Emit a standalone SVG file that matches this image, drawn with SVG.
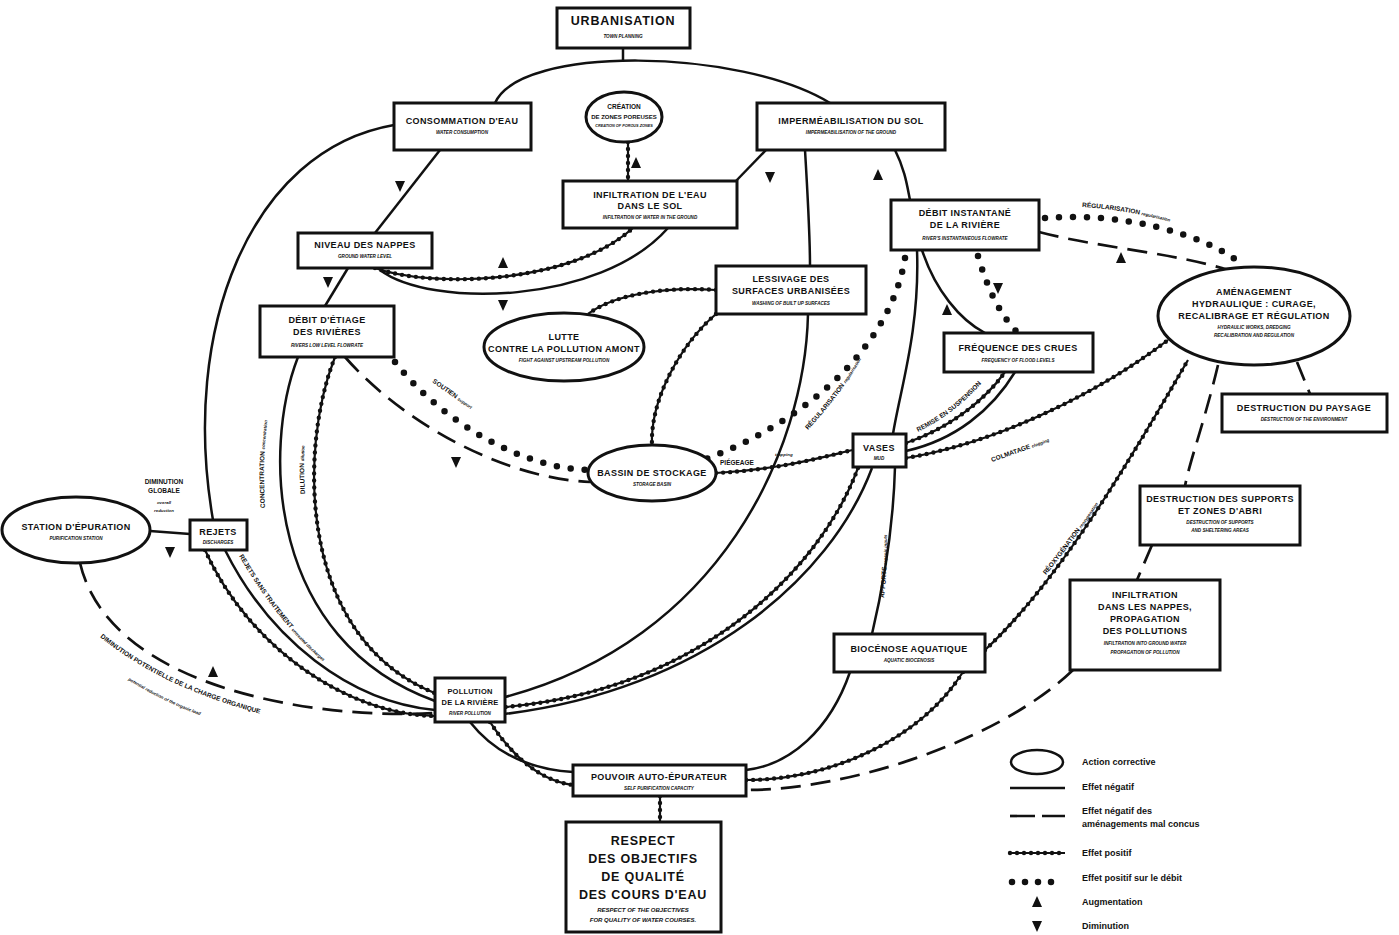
<svg xmlns="http://www.w3.org/2000/svg" xmlns:xlink="http://www.w3.org/1999/xlink" width="1399" height="935" viewBox="0 0 1399 935">
<style>
text{font-family:"Liberation Sans",Arial,sans-serif;font-weight:bold;fill:#111;text-anchor:middle}
.t{font-size:9px;letter-spacing:0.4px}
.s{font-size:4.6px;font-style:italic}
.big{font-size:12.5px;letter-spacing:0.8px}
.lab{font-size:6.5px;text-anchor:start}
.labs{font-size:4.4px;font-style:italic;text-anchor:start}
.box{fill:#fff;stroke:#111;stroke-width:3}
.ell{fill:#fff;stroke:#111;stroke-width:3}
.neg{fill:none;stroke:#111;stroke-width:2.5}
.dash{fill:none;stroke:#111;stroke-width:2.7;stroke-dasharray:20 10}
.posl{fill:none;stroke:#111;stroke-width:2.2}
.posd{fill:none;stroke:#111;stroke-width:4.4;stroke-dasharray:0 7;stroke-linecap:round}
.dot{fill:none;stroke:#111;stroke-width:6.5;stroke-dasharray:0 14;stroke-linecap:round}
.tri{fill:#111}
.leg{font-size:9px;text-anchor:start;font-weight:bold}
</style>
<defs>
<path id="tu" d="M0,-7 L5,4 L-5,4 Z"/>
<path id="td" d="M0,7 L5,-4 L-5,-4 Z"/>
<!-- positive paths -->
<path id="p1" d="M375,268 C430,288 570,285 633,228"/>
<path id="p2" d="M628,142 L628,181"/>
<path id="p3" d="M335,357 C298,450 298,640 437,694"/>
<path id="p4" d="M205,550 C250,650 350,715 435,716"/>
<path id="p5" d="M716,290 C660,286 612,296 588,314"/>
<path id="p6" d="M716,314 C680,345 650,400 652,445"/>
<path id="p7" d="M716,473 C780,470 830,455 853,450"/>
<path id="p8" d="M906,443 C950,428 985,400 1005,372"/>
<path id="p9" d="M906,458 C1000,442 1100,392 1168,340"/>
<path id="p10" d="M858,468 C820,570 700,690 505,707"/>
<path id="p11" d="M985,650 C1060,580 1130,460 1188,360"/>
<path id="p12" d="M963,672 C920,740 830,780 746,780"/>
<path id="p13" d="M490,722 C520,768 550,782 573,785"/>
<path id="p14" d="M660,796 L660,822"/>
<!-- label paths -->
<path id="l1" d="M100,637 C170,694 260,718 368,737"/>
<path id="l2" d="M128,680 C181,713 236,730 304,743"/>
<path id="l3" d="M239,556 C279,625 330,680 392,703"/>
<path id="l4" d="M265,508 C262,450 266,405 282,362"/>
<path id="l5" d="M305,494 C303,460 304,430 310,405"/>
<path id="l6" d="M432,382 C460,402 480,416 505,430"/>
<path id="l7" d="M808,430 C835,400 860,370 888,305"/>
<path id="l8" d="M884,598 C888,565 888,530 884,495"/>
<path id="l9" d="M1046,575 C1070,545 1100,505 1125,460"/>
<path id="l10" d="M1082,207 C1130,210 1180,222 1225,240"/>
<path id="l11" d="M918,432 C942,420 962,405 980,385"/>
<path id="l12" d="M992,462 C1020,452 1042,445 1072,432"/>
</defs>

<g id="connectors">
  <!-- solid: effet negatif -->
  <path class="neg" d="M623,48 L623,62"/>
  <path class="neg" d="M495,103 C520,45 740,48 830,103"/>
  <path class="neg" d="M394,125 C250,150 180,330 213,520"/>
  <path class="neg" d="M440,150 L375,233"/>
  <path class="neg" d="M348,268 L325,306"/>
  <path class="neg" d="M380,270 C430,308 600,305 668,228"/>
  <path class="neg" d="M766,150 L735,182"/>
  <path class="neg" d="M895,150 C905,170 907,185 910,200"/>
  <path class="neg" d="M805,150 C808,200 810,240 810,266"/>
  <path class="neg" d="M808,314 C805,450 720,640 505,697"/>
  <path class="neg" d="M922,250 C935,290 960,320 985,333"/>
  <path class="neg" d="M917,250 C920,330 900,390 893,434"/>
  <path class="neg" d="M298,357 C262,450 268,640 435,701"/>
  <path class="neg" d="M225,550 C270,640 350,702 435,710"/>
  <path class="neg" d="M150,531 L190,534"/>
  <path class="neg" d="M470,722 C500,760 540,770 573,772"/>
  <path class="neg" d="M895,467 C893,540 880,600 872,634"/>
  <path class="neg" d="M850,672 C830,730 790,765 746,770"/>
  <path class="neg" d="M872,468 C830,580 700,690 505,714"/>
  <path class="neg" d="M906,451 C955,440 992,410 1015,372"/>
  <!-- dashed -->
  <path class="dash" d="M80,563 C110,690 320,720 435,713"/>
  <path class="dash" d="M345,357 C400,420 500,478 590,482"/>
  <path class="dash" d="M1039,232 C1100,248 1170,252 1228,270"/>
  <path class="dash" d="M1297,362 L1310,394"/>
  <path class="dash" d="M1218,365 C1205,420 1190,460 1185,486"/>
  <path class="dash" d="M1152,545 L1137,580"/>
  <path class="dash" d="M1073,670 C1000,740 850,790 746,790"/>
  <!-- positive (beaded) -->
  <use href="#p1" class="posl"/><use href="#p1" class="posd"/>
  <use href="#p2" class="posl"/><use href="#p2" class="posd"/>
  <use href="#p3" class="posl"/><use href="#p3" class="posd"/>
  <use href="#p4" class="posl"/><use href="#p4" class="posd"/>
  <use href="#p5" class="posl"/><use href="#p5" class="posd"/>
  <use href="#p6" class="posl"/><use href="#p6" class="posd"/>
  <use href="#p7" class="posl"/><use href="#p7" class="posd"/>
  <use href="#p8" class="posl"/><use href="#p8" class="posd"/>
  <use href="#p9" class="posl"/><use href="#p9" class="posd"/>
  <use href="#p10" class="posl"/><use href="#p10" class="posd"/>
  <use href="#p11" class="posl"/><use href="#p11" class="posd"/>
  <use href="#p12" class="posl"/><use href="#p12" class="posd"/>
  <use href="#p13" class="posl"/><use href="#p13" class="posd"/>
  <use href="#p14" class="posl"/><use href="#p14" class="posd"/>
  <!-- dotted: effet positif sur le debit -->
  <path class="dot" d="M1045,218 C1120,212 1200,232 1242,264"/>
  <path class="dot" d="M978,256 C988,290 1000,315 1018,333"/>
  <path class="dot" d="M905,258 C890,350 800,425 703,460"/>
  <path class="dot" d="M395,362 C440,420 520,468 588,470"/>
  <!-- triangles -->
  <use href="#tu" class="tri" x="636" y="164"/>
  <use href="#tu" class="tri" x="503" y="264"/>
  <use href="#tu" class="tri" x="878" y="176"/>
  <use href="#tu" class="tri" x="947" y="311"/>
  <use href="#tu" class="tri" x="1121" y="259"/>
  <use href="#tu" class="tri" x="213" y="673"/>
  <use href="#td" class="tri" x="400" y="185"/>
  <use href="#td" class="tri" x="328" y="281"/>
  <use href="#td" class="tri" x="503" y="304"/>
  <use href="#td" class="tri" x="770" y="176"/>
  <use href="#td" class="tri" x="998" y="287"/>
  <use href="#td" class="tri" x="456" y="461"/>
  <use href="#td" class="tri" x="170" y="551"/>
  <!-- connector labels -->
  <text class="lab" style="text-anchor:middle" x="164" y="484">DIMINUTION</text>
  <text class="lab" style="text-anchor:middle" x="164" y="493">GLOBALE</text>
  <text class="labs" style="text-anchor:middle" x="164" y="504">overall</text>
  <text class="labs" style="text-anchor:middle" x="164" y="512">reduction</text>
  <text class="lab"><textPath href="#l1">DIMINUTION POTENTIELLE DE LA CHARGE ORGANIQUE</textPath><textPath href="#l2" class="labs">potential reduction of the organic load</textPath></text>
  <text class="lab"><textPath href="#l3">REJETS SANS TRAITEMENT <tspan class="labs">untreated discharges</tspan></textPath></text>
  <text class="lab"><textPath href="#l4">CONCENTRATION <tspan class="labs">concentration</tspan></textPath></text>
  <text class="lab"><textPath href="#l5">DILUTION <tspan class="labs">dilution</tspan></textPath></text>
  <text class="lab"><textPath href="#l6">SOUTIEN <tspan class="labs">support</tspan></textPath></text>
  <text class="lab"><textPath href="#l7">RÉGULARISATION <tspan class="labs">regularisation</tspan></textPath></text>
  <text class="lab" x="720" y="465">PIÉGEAGE</text>
  <text class="labs" x="775" y="456">trapping</text>
  <text class="lab"><textPath href="#l8">APPORTS <tspan class="labs">organic inputs</tspan></textPath></text>
  <text class="lab"><textPath href="#l9">RÉOXYGÉNATION <tspan class="labs">reoxygenation</tspan></textPath></text>
  <text class="lab"><textPath href="#l10">RÉGULARISATION <tspan class="labs">regularisation</tspan></textPath></text>
  <text class="lab"><textPath href="#l11">REMISE EN SUSPENSION</textPath></text>
  <text class="lab"><textPath href="#l12">COLMATAGE <tspan class="labs">clogging</tspan></textPath></text>
</g>

<g id="n-urbanisation"><rect class="box" x="557" y="8" width="133" height="40"/><text class="big" x="623" y="25">URBANISATION</text><text class="s" x="623" y="38">TOWN PLANNING</text></g>
<g id="n-consommation"><rect class="box" x="394" y="103" width="137" height="47"/><text class="t" x="462" y="124">CONSOMMATION D'EAU</text><text class="s" x="462" y="134">WATER CONSUMPTION</text></g>
<g id="n-creation"><ellipse class="ell" cx="624" cy="117" rx="38" ry="25"/><text class="t" style="font-size:6.5px;letter-spacing:0" x="624" y="109">CRÉATION</text><text class="t" style="font-size:6px;letter-spacing:0" x="624" y="119">DE ZONES POREUSES</text><text class="s" style="font-size:3.8px" x="624" y="127">CREATION OF POROUS ZONES</text></g>
<g id="n-impermeabilisation"><rect class="box" x="757" y="103" width="188" height="47"/><text class="t" x="851" y="124">IMPERMÉABILISATION DU SOL</text><text class="s" x="851" y="134">IMPERMEABILISATION OF THE GROUND</text></g>
<g id="n-infiltration-sol"><rect class="box" x="563" y="181" width="174" height="47"/><text class="t" x="650" y="198">INFILTRATION DE L'EAU</text><text class="t" x="650" y="209">DANS LE SOL</text><text class="s" x="650" y="219">INFILTRATION OF WATER IN THE GROUND</text></g>
<g id="n-niveau"><rect class="box" x="298" y="233" width="134" height="35"/><text class="t" x="365" y="248">NIVEAU DES NAPPES</text><text class="s" x="365" y="258">GROUND WATER LEVEL</text></g>
<g id="n-debit-instantane"><rect class="box" x="891" y="200" width="148" height="50"/><text class="t" x="965" y="216">DÉBIT INSTANTANÉ</text><text class="t" x="965" y="228">DE LA RIVIÈRE</text><text class="s" x="965" y="240">RIVER'S INSTANTANEOUS FLOWRATE</text></g>
<g id="n-lessivage"><rect class="box" x="716" y="266" width="150" height="48"/><text class="t" x="791" y="282">LESSIVAGE DES</text><text class="t" x="791" y="294">SURFACES URBANISÉES</text><text class="s" x="791" y="305">WASHING OF BUILT UP SURFACES</text></g>
<g id="n-lutte"><ellipse class="ell" cx="564" cy="347" rx="80" ry="34"/><text class="t" x="564" y="340">LUTTE</text><text class="t" x="564" y="352">CONTRE LA POLLUTION AMONT</text><text class="s" x="564" y="362">FIGHT AGAINST UPSTREAM POLLUTION</text></g>
<g id="n-debit-etiage"><rect class="box" x="260" y="306" width="134" height="51"/><text class="t" x="327" y="323">DÉBIT D'ÉTIAGE</text><text class="t" x="327" y="335">DES RIVIÈRES</text><text class="s" x="327" y="347">RIVERS LOW LEVEL FLOWRATE</text></g>
<g id="n-frequence"><rect class="box" x="944" y="333" width="149" height="39"/><text class="t" x="1018" y="351">FRÉQUENCE DES CRUES</text><text class="s" x="1018" y="362">FREQUENCY OF FLOOD LEVELS</text></g>
<g id="n-amenagement"><ellipse class="ell" cx="1254" cy="316" rx="96" ry="49"/><text class="t" x="1254" y="295">AMÉNAGEMENT</text><text class="t" x="1254" y="307">HYDRAULIQUE : CURAGE,</text><text class="t" x="1254" y="319">RECALIBRAGE ET RÉGULATION</text><text class="s" x="1254" y="329">HYDRAULIC WORKS, DREDGING</text><text class="s" x="1254" y="337">RECALIBRATION AND REGULATION</text></g>
<g id="n-paysage"><rect class="box" x="1222" y="394" width="165" height="38"/><text class="t" x="1304" y="411">DESTRUCTION DU PAYSAGE</text><text class="s" x="1304" y="421">DESTRUCTION OF THE ENVIRONMENT</text></g>
<g id="n-bassin"><ellipse class="ell" cx="652" cy="473" rx="64" ry="28"/><text class="t" x="652" y="476">BASSIN DE STOCKAGE</text><text class="s" x="652" y="486">STORAGE BASIN</text></g>
<g id="n-vases"><rect class="box" x="853" y="434" width="53" height="33"/><text class="t" x="879" y="451">VASES</text><text class="s" x="879" y="460">MUD</text></g>
<g id="n-station"><ellipse class="ell" cx="76" cy="530" rx="74" ry="33"/><text class="t" x="76" y="530">STATION D'ÉPURATION</text><text class="s" x="76" y="540">PURIFICATION STATION</text></g>
<g id="n-rejets"><rect class="box" x="190" y="520" width="57" height="30"/><text class="t" x="218" y="535">REJETS</text><text class="s" x="218" y="544">DISCHARGES</text></g>
<g id="n-supports"><rect class="box" x="1140" y="486" width="160" height="59"/><text class="t" x="1220" y="502">DESTRUCTION DES SUPPORTS</text><text class="t" x="1220" y="514">ET ZONES D'ABRI</text><text class="s" x="1220" y="524">DESTRUCTION OF SUPPORTS</text><text class="s" x="1220" y="532">AND SHELTERING AREAS</text></g>
<g id="n-infiltration-nappes"><rect class="box" x="1070" y="580" width="150" height="90"/><text class="t" x="1145" y="598">INFILTRATION</text><text class="t" x="1145" y="610">DANS LES NAPPES,</text><text class="t" x="1145" y="622">PROPAGATION</text><text class="t" x="1145" y="634">DES POLLUTIONS</text><text class="s" x="1145" y="645">INFILTRATION INTO GROUND WATER</text><text class="s" x="1145" y="654">PROPAGATION OF POLLUTION</text></g>
<g id="n-biocenose"><rect class="box" x="834" y="634" width="151" height="38"/><text class="t" x="909" y="652">BIOCÉNOSE AQUATIQUE</text><text class="s" x="909" y="662">AQUATIC BIOCENOSIS</text></g>
<g id="n-pollution"><rect class="box" x="435" y="678" width="70" height="44"/><text class="t" style="font-size:7.5px;letter-spacing:0.2px" x="470" y="694">POLLUTION</text><text class="t" style="font-size:7.5px;letter-spacing:0.2px" x="470" y="705">DE LA RIVIÈRE</text><text class="s" x="470" y="715">RIVER POLLUTION</text></g>
<g id="n-pouvoir"><rect class="box" x="573" y="765" width="173" height="31"/><text class="t" x="659" y="780">POUVOIR AUTO-ÉPURATEUR</text><text class="s" x="659" y="790">SELF PURIFICATION CAPACITY</text></g>
<g id="n-respect"><rect class="box" x="566" y="822" width="155" height="110"/><text class="big" x="643" y="845">RESPECT</text><text class="big" x="643" y="863">DES OBJECTIFS</text><text class="big" x="643" y="881">DE QUALITÉ</text><text class="big" x="643" y="899">DES COURS D'EAU</text><text class="s" style="font-size:6px" x="643" y="912">RESPECT OF THE OBJECTIVES</text><text class="s" style="font-size:6px" x="643" y="922">FOR QUALITY OF WATER COURSES.</text></g>

<g id="legend">
  <ellipse class="ell" cx="1037" cy="762" rx="26" ry="12" style="stroke-width:2.5"/>
  <text class="leg" x="1082" y="765">Action corrective</text>
  <path class="neg" d="M1010,788 L1065,788"/>
  <text class="leg" x="1082" y="790">Effet négatif</text>
  <path class="dash" d="M1010,816 L1065,816" style="stroke-dasharray:25 7"/>
  <text class="leg" x="1082" y="814">Effet négatif des</text>
  <text class="leg" x="1082" y="827">aménagements mal concus</text>
  <path class="posl" d="M1010,853 L1065,853"/><path class="posd" d="M1010,853 L1065,853"/>
  <text class="leg" x="1082" y="856">Effet positif</text>
  <path class="dot" d="M1012,882 L1064,882" style="stroke-dasharray:0 13"/>
  <text class="leg" x="1082" y="881">Effet positif sur le débit</text>
  <use href="#tu" class="tri" x="1037" y="903"/>
  <text class="leg" x="1082" y="905">Augmentation</text>
  <use href="#td" class="tri" x="1037" y="925"/>
  <text class="leg" x="1082" y="929">Diminution</text>
</g>
</svg>
